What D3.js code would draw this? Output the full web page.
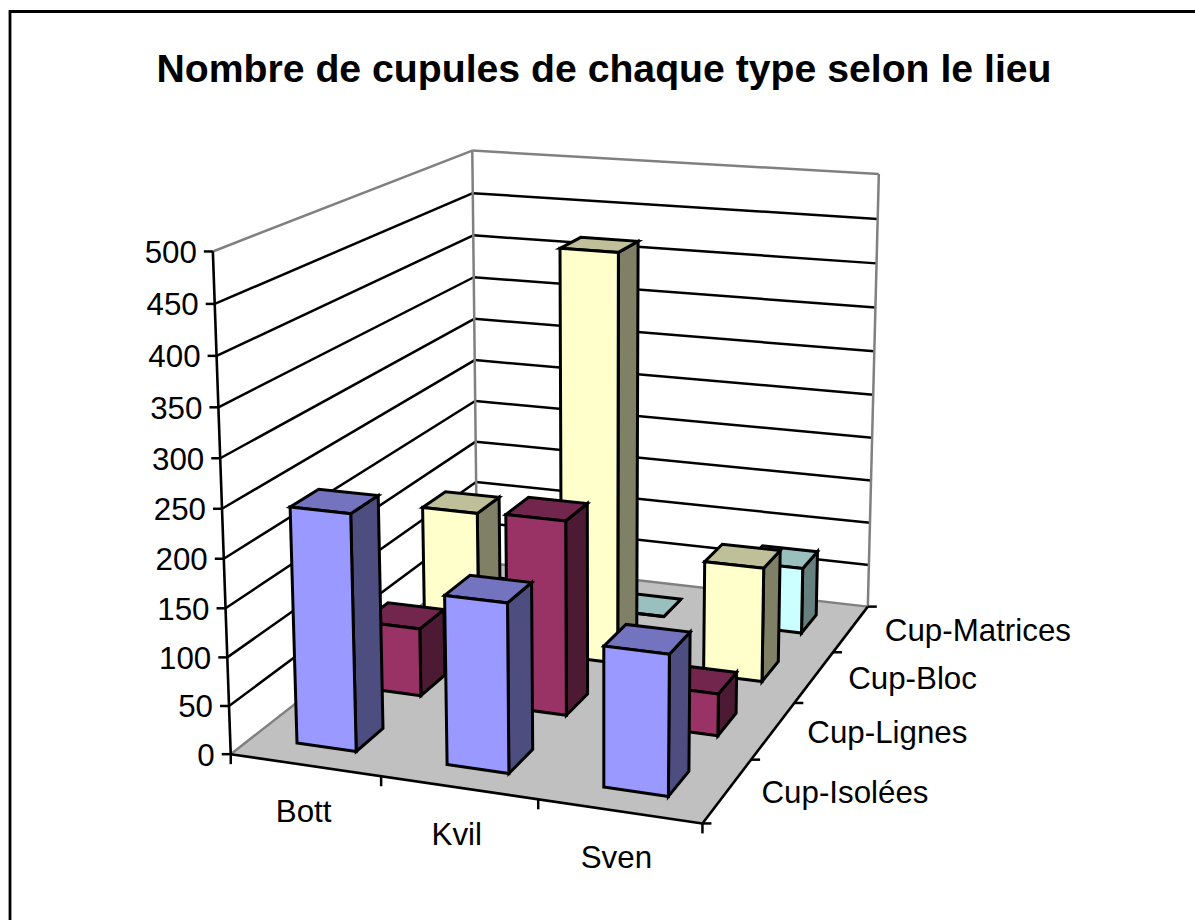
<!DOCTYPE html>
<html><head><meta charset="utf-8">
<script src="https://cdnjs.cloudflare.com/ajax/libs/d3/7.8.5/d3.min.js"></script>
<style>html,body{margin:0;padding:0;background:#fff}svg{display:block}text{font-family:"Liberation Sans",Arial,sans-serif;fill:#000}</style>
</head><body><svg id="c" width="1195" height="920"></svg>
<script>
const title = "Nombre de cupules de chaque type selon le lieu";
const lieux = ["Bott","Kvil","Sven"];
const types = ["Cup-Isolées","Cup-Lignes","Cup-Bloc","Cup-Matrices"];
const isolees  = [243,172,141];
const lignes   = [73,206,44];
const bloc     = [151,449,125];
const matrices = [0,0,75];
const valueTicks = [0,50,100,150,200,250,300,350,400,450,500];
const colours = ["#9999FF","#993366","#FFFFCC","#CCFFFF"];

// Calibration of the perspective box: [x,y,z] in unit space -> picture position
const calib = [
 [0,0,0,231,755],[1,0,0,702,823],[1,1,0,868,607],[0,1,0,477,561],
 [0,0,1,213,251],[0,1,1,472,151],[1,1,1,879,174]
];
function solveCamera(pts){
  const A=[],b=[];
  pts.forEach(([X,Y,Z,u,v])=>{
    A.push([X,Y,Z,1,0,0,0,0,-u*X,-u*Y,-u*Z]);b.push(u);
    A.push([0,0,0,0,X,Y,Z,1,-v*X,-v*Y,-v*Z]);b.push(v);
  });
  const n=11,M=[];
  for(let i=0;i<n;i++){M.push([]);for(let j=0;j<=n;j++){let s=0;
    A.forEach((r,k)=>{s+=r[i]*(j<n?r[j]:b[k]);});
    if(i===j)s+=1e-9;M[i].push(s);}}
  for(let i=0;i<n;i++){let p=i;for(let r=i+1;r<n;r++)if(Math.abs(M[r][i])>Math.abs(M[p][i]))p=r;
    [M[i],M[p]]=[M[p],M[i]];
    for(let r=0;r<n;r++)if(r!==i){const f=M[r][i]/M[i][i];for(let c=i;c<=n;c++)M[r][c]-=f*M[i][c];}}
  return M.map((r,i)=>r[n]/r[i]);
}
const P=solveCamera(calib);
const proj=(x,y,z)=>{const w=P[8]*x+P[9]*y+P[10]*z+1;
  return [(P[0]*x+P[1]*y+P[2]*z+P[3])/w,(P[4]*x+P[5]*y+P[6]*z+P[7])/w];};

const xBand=d3.scaleBand().domain(lieux).range([0,1]).paddingInner(.6).paddingOuter(.3);
const yBand=d3.scaleBand().domain(types).range([0,1]).paddingInner(.6).paddingOuter(.3);
const zScale=d3.scaleLinear().domain([0,500]).range([0,1]);
const series=[isolees,lignes,bloc,matrices];

const svg=d3.select("#c");
const poly=(pts,fill,stroke,w)=>svg.append("path")
  .attr("d","M"+pts.map(p=>p.map(v=>v.toFixed(1)).join(",")).join("L")+"Z")
  .attr("fill",fill).attr("stroke",stroke).attr("stroke-width",w).attr("stroke-linejoin","miter");
const line=(a,b,stroke,w)=>svg.append("line").attr("x1",a[0]).attr("y1",a[1]).attr("x2",b[0]).attr("y2",b[1])
  .attr("stroke",stroke).attr("stroke-width",w);

// chart frame: only left and top edges fall inside the window
svg.append("path").attr("d","M1200,11.5H10V925").attr("fill","none").attr("stroke","#000").attr("stroke-width",2.8);

svg.append("text").attr("x",604).attr("y",82).attr("text-anchor","middle")
  .attr("font-size",39.2).attr("font-weight","bold").text(title);

// walls
poly([proj(0,0,0),proj(0,1,0),proj(0,1,1),proj(0,0,1)],"#fff","none",0);
poly([proj(0,1,0),proj(1,1,0),proj(1,1,1),proj(0,1,1)],"#fff","none",0);
// gridlines
valueTicks.slice(1,-1).forEach(t=>{const z=zScale(t);
  line(proj(0,0,z),proj(0,1,z),"#000",2.5);
  line(proj(0,1,z),proj(1,1,z),"#000",2.5);
});
// wall outline
const gray="#808080";
line(proj(0,0,1),proj(0,1,1),gray,2.5);
line(proj(0,1,1),proj(1,1,1),gray,2.5);
line(proj(0,1,0),proj(0,1,1),gray,2.5);
line(proj(1,1,0),proj(1,1,1),gray,2.5);
// floor
poly([proj(0,0,0),proj(1,0,0),proj(1,1,0),proj(0,1,0)],"#C0C0C0","none",0);
line(proj(0,0,0),proj(0,1,0),gray,2.5);
line(proj(0,1,0),proj(1,1,0),gray,2.5);
// axes
line(proj(0,0,0),proj(0,0,1),"#000",2.6);
line(proj(0,0,0),proj(1,0,0),"#000",2.6);
line(proj(1,0,0),proj(1,1,0),"#000",2.6);

// value axis
valueTicks.forEach(t=>{const p=proj(0,0,zScale(t));
  line([p[0]-9,p[1]],p,"#000",2.5);
  svg.append("text").attr("x",p[0]-16).attr("y",p[1]+11.5).attr("text-anchor","end").attr("font-size",31.3).text(t);
});
// category axis ticks + labels
d3.range(lieux.length+1).forEach(i=>{const p=proj(i/lieux.length,0,0);line(p,[p[0],p[1]+10],"#000",2.5);});
const xLabelOffset=[-1.5,-2,-3];
lieux.forEach((d,i)=>{const p=proj((i+.5)/lieux.length,0,0);
  svg.append("text").attr("x",p[0]+xLabelOffset[i]).attr("y",p[1]+57).attr("text-anchor","middle").attr("font-size",31.3).text(d);
});
// series axis ticks + labels
d3.range(types.length+1).forEach(i=>{const p=proj(1,i/types.length,0);line(p,[p[0]+9,p[1]],"#000",2.5);});
types.forEach((d,i)=>{const p=proj(1,(i+.5)/types.length,0);
  svg.append("text").attr("x",p[0]+34).attr("y",p[1]+12).attr("font-size",31.3).text(d);
});

// bars: back rows first, left to right
d3.range(types.length).reverse().forEach(r=>{
  lieux.forEach((cat,c)=>{
    const x0=xBand(cat),x1=x0+xBand.bandwidth(),y0=yBand(types[r]),y1=y0+yBand.bandwidth(),z=zScale(series[r][c]);
    const base=d3.rgb(colours[r]);
    const shade=k=>d3.rgb(base.r*k,base.g*k,base.b*k).formatHex();
    const w=3;
    poly([proj(x1,y0,0),proj(x1,y1,0),proj(x1,y1,z),proj(x1,y0,z)],shade(.5),"#000",w);
    poly([proj(x0,y0,z),proj(x1,y0,z),proj(x1,y1,z),proj(x0,y1,z)],shade(.75),"#000",w);
    poly([proj(x0,y0,0),proj(x1,y0,0),proj(x1,y0,z),proj(x0,y0,z)],base.formatHex(),"#000",w);
  });
});
</script></body></html>
